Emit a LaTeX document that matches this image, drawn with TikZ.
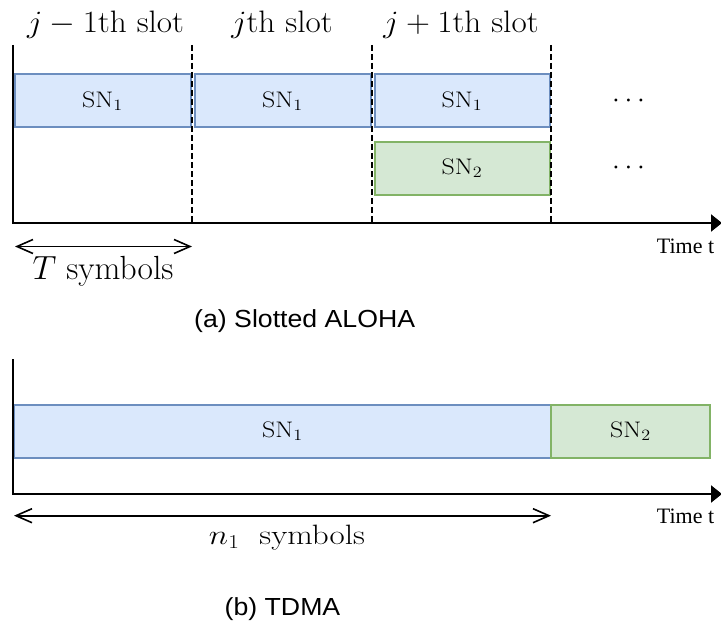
\RequirePackage{fix-cm}
\documentclass[tikz,border=0pt]{standalone}
\usepackage{graphicx}
\usepackage{fontspec}
\newfontfamily\capfont{Liberation Sans}
\newfontfamily\timefont{Liberation Serif}
\usetikzlibrary{arrows.meta}
\definecolor{snblue}{HTML}{DAE8FC}
\definecolor{snblueline}{HTML}{6C8EBF}
\definecolor{sngreen}{HTML}{D5E8D4}
\definecolor{sngreenline}{HTML}{82B366}
\newcommand{\fsz}[1]{\fontsize{#1}{#1}\selectfont}
\newcommand{\widen}[2]{\scalebox{#1}[1]{#2}}

\begin{document}
\begin{tikzpicture}[x=1pt,y=-1pt,
  axisline/.style={line width=2.2pt, line join=miter, -{Triangle[length=11pt,width=17pt]}},
  slotdash/.style={line width=1.8pt, dash pattern=on 6pt off 3pt},
  bluebox/.style={draw=snblueline, fill=snblue, line width=2pt,
    minimum height=53pt, inner sep=0pt, font=\fsz{22.5}},
  greenbox/.style={draw=sngreenline, fill=sngreen, line width=2pt,
    minimum height=53pt, inner sep=0pt, font=\fsz{22.5}},
  spanarrow/.style={line width=1.6pt,
    {Straight Barb[length=16pt,width=14pt]}-{Straight Barb[length=16pt,width=14pt]}},
  txt/.style={inner sep=0pt, anchor=base},
]
\useasboundingbox (0,0) rectangle (721,626);

% ---------- (a) Slotted ALOHA ----------
\coordinate (a-top) at (13,45);
\coordinate (a-org) at (13,223);
\coordinate (a-end) at (722,223);

\node[bluebox, minimum width=176pt] (a-sn1-1) at (102.5,101) {\widen{1.15}{$\mathrm{SN}_1$}};
\node[bluebox, minimum width=176pt] (a-sn1-2) at (282.5,101) {\widen{1.15}{$\mathrm{SN}_1$}};
\node[bluebox, minimum width=175pt] (a-sn1-3) at (462,101) {\widen{1.15}{$\mathrm{SN}_1$}};
\node[greenbox, minimum width=175pt] (a-sn2) at (462,168) {\widen{1.15}{$\mathrm{SN}_2$}};

\node[txt, font=\fsz{28}] (a-dots1) at (628.5,108) {$\cdots$};
\node[txt, font=\fsz{28}] (a-dots2) at (628.5,175) {$\cdots$};

% slot boundaries
\foreach \x/\n in {192/1, 372/2, 551/3} {
  \coordinate (d\n-t) at (\x,45);
  \coordinate (d\n-b) at (\x,223);
  \draw[slotdash] (d\n-t) -- (d\n-b);
}

\draw[axisline] (a-top) -- (a-org) -- (a-end);

\node[txt, font=\fsz{31}] (slot-prev) at (105.5,33) {\widen{1.07}{$j-1$th slot}};
\node[txt, font=\fsz{31}] (slot-cur)  at (282,33)   {\widen{1.07}{$j$th slot}};
\node[txt, font=\fsz{31}] (slot-next) at (461,33)   {\widen{1.07}{$j+1$th slot}};

\node[txt, font=\timefont\fsz{22}] (a-time) at (685.5,253) {Time t};

\coordinate (t-left) at (15,246.5);
\coordinate (t-right) at (192,246.5);
\draw[spanarrow] (t-left) -- (t-right);
\node[txt, font=\fsz{33.5}] (t-label) at (103,279) {$T$ symbols};

\node[txt, font=\capfont\fsz{24.7}] (cap-a) at (304.7,327) {\widen{1.08}{(a) Slotted ALOHA}};

% ---------- (b) TDMA ----------
\coordinate (b-top) at (13,359);
\coordinate (b-org) at (13,494);
\coordinate (b-end) at (722,494);

\node[bluebox, minimum width=537pt] (b-sn1) at (282.5,431) {\widen{1.15}{$\mathrm{SN}_1$}};
\node[greenbox, minimum width=159pt] (b-sn2) at (630.5,431) {\widen{1.15}{$\mathrm{SN}_2$}};

\draw[axisline] (b-top) -- (b-org) -- (b-end);

\node[txt, font=\timefont\fsz{22}] (b-time) at (685.5,523) {Time t};

\coordinate (n-left) at (14,515.7);
\coordinate (n-right) at (551,515.7);
\draw[spanarrow] (n-left) -- (n-right);
\node[txt, font=\fsz{28}] (n-label) at (287,544) {\widen{1.18}{$n_1$\ \ symbols}};

\node[txt, font=\capfont\fsz{24.7}] (cap-b) at (282.5,615) {\widen{1.08}{(b) TDMA}};
\end{tikzpicture}
\end{document}
